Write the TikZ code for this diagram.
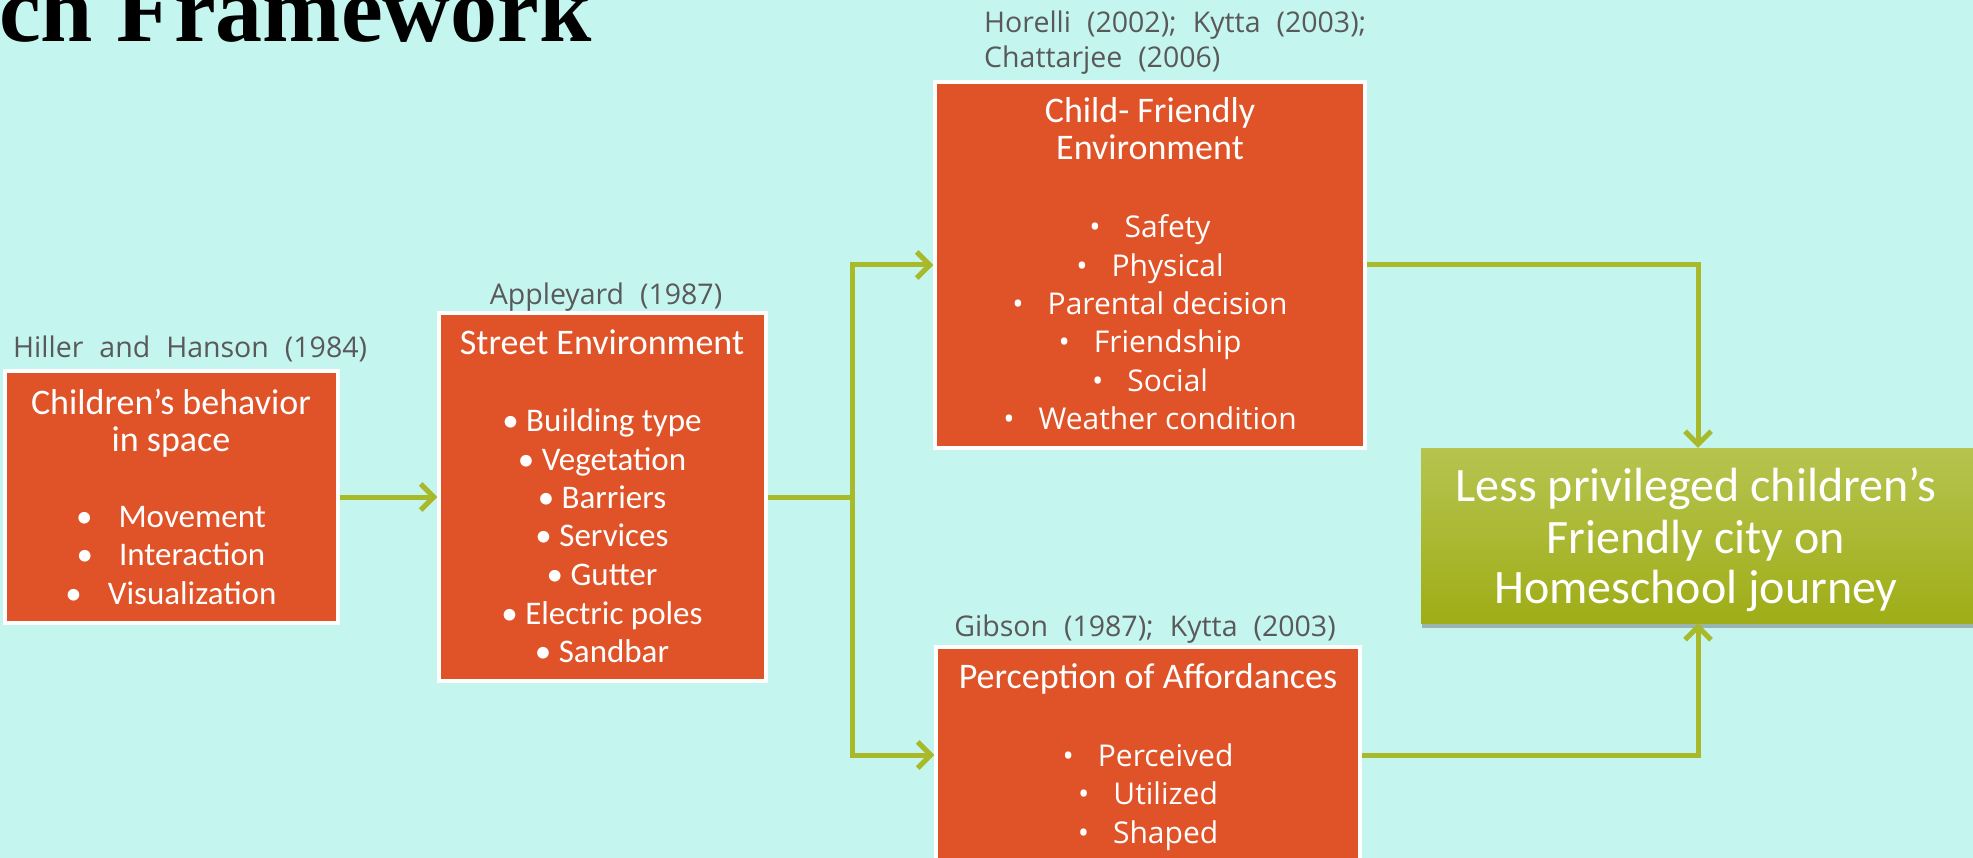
\documentclass[tikz,border=0pt]{standalone}
\usepackage{fontspec}
\usetikzlibrary{arrows.meta,shadows}
\setmainfont{Liberation Serif}
\newfontfamily\cf{Carlito}
\newfontfamily\of{Open Sans}
\definecolor{bg}{HTML}{C5F5EF}
\definecolor{org}{HTML}{E05328}
\definecolor{lnk}{HTML}{A8B92A}
\definecolor{lbl}{HTML}{595959}
\definecolor{gtop}{HTML}{B6C450}
\definecolor{gmid}{HTML}{ACBE20}
\definecolor{gbot}{HTML}{9FAD17}
\tikzset{
 obox/.style={draw=white, line width=3.5pt, fill=org, inner sep=0pt},
 gbox/.style={inner sep=0pt, top color=gtop, middle color=gmid, bottom color=gbot,
   drop shadow={shadow xshift=1pt, shadow yshift=-5pt, opacity=0.45, fill=black!60}},
 conn/.style={draw=lnk, line width=5pt, -{Straight Barb[length=13pt,width=26pt]}},
 lab/.style={font={\of\fontsize{28.5}{32}\selectfont\spaceskip=16pt\relax}, text=lbl, inner sep=0pt},
 ttl/.style={font=\cf\fontsize{36}{38}\selectfont, text=white, inner sep=0pt, anchor=mid},
 itA/.style={font=\cf\fontsize{33}{38}\selectfont, text=white, inner sep=0pt, anchor=mid},
 itB/.style={font=\of\fontsize{30}{38}\selectfont, text=white, inner sep=0pt, anchor=mid},
 big/.style={font=\cf\fontsize{48}{50}\selectfont, text=white, inner sep=0pt, anchor=mid},
}
\begin{document}
\begin{tikzpicture}[x=1pt,y=-1pt]
\fill[bg] (0,0) rectangle (1973,858);
\useasboundingbox (0,0) rectangle (1973,858);
\clip (0,0) rectangle (1973,858);
% title
\node[font=\bfseries\fontsize{94}{94}\selectfont, anchor=base east, inner sep=0pt] (title) at (592,42) {ch Framework};
% boxes
\node[obox, minimum width=333pt, minimum height=252pt] (b1) at (171.5,497) {};
\node[obox, minimum width=327pt, minimum height=368pt] (b2) at (602.5,497) {};
\node[obox, minimum width=430pt, minimum height=366pt] (b3) at (1150,265) {};
\node[obox, minimum width=424pt, minimum height=216pt] (b4) at (1148,755) {};
\node[gbox, minimum width=554pt, minimum height=175pt] (b5) at (1698,535.5) {};
% labels
\node[lab, anchor=west] (l1) at (13,349) {Hiller and Hanson (1984)};
\node[lab] (l2) at (606,297) {Appleyard (1987)};
\node[lab, anchor=west] (l3a) at (984,25) {Horelli (2002); Kytta (2003);};
\node[lab, anchor=west] (l3b) at (984,60) {Chattarjee (2006)};
\node[lab] (l4) at (1145,629) {Gibson (1987); Kytta (2003)};
% box 1
\node[ttl] (t1a) at (171,412) {Children’s behavior};
\node[ttl] (t1b) at (171,449) {in space};
\foreach \t/\y [count=\i] in {Movement/525, Interaction/563, Visualization/602}
  \node[itA] (i1\i) at (171,\y) {\textbullet\hspace{26pt}\t};
% box 2
\node[ttl] (t2) at (602,352) {Street Environment};
\foreach \t/\y [count=\i] in {Building type/429, Vegetation/468, Barriers/506, Services/544, Gutter/583, Electric poles/622, Sandbar/660}
  \node[itA] (i2\i) at (602,\y) {\textbullet\ \t};
% box 3
\node[ttl] (t3a) at (1150,120) {Child- Friendly};
\node[ttl] (t3b) at (1150,157) {Environment};
\foreach \t/\y [count=\i] in {Safety/235, Physical/274, Parental decision/312, Friendship/350, Social/389, Weather condition/427}
  \node[itB] (i3\i) at (1150,\y) {\textbullet\hspace{24pt}\t};
% box 4
\node[ttl] (t4) at (1148,686) {Perception of Affordances};
\foreach \t/\y [count=\i] in {Perceived/764, Utilized/802, Shaped/841}
  \node[itB] (i4\i) at (1148,\y) {\textbullet\hspace{24pt}\t};
% box 5
\node[big] (t5a) at (1696,499) {Less privileged children’s};
\node[big] (t5b) at (1696,551) {Friendly city on};
\node[big] (t5c) at (1696,601) {Homeschool journey};
% connectors
\coordinate (split) at (852,497);
\draw[conn] (b1.east) -- (b2.west);
\draw[conn] (b2.east) -- (split) |- (b3.west);
\draw[conn] (split) |- (b4.west);
\draw[conn] (b3.east) -| (b5.north);
\draw[conn] (b4.east) -| (b5.south);
\end{tikzpicture}
\end{document}
